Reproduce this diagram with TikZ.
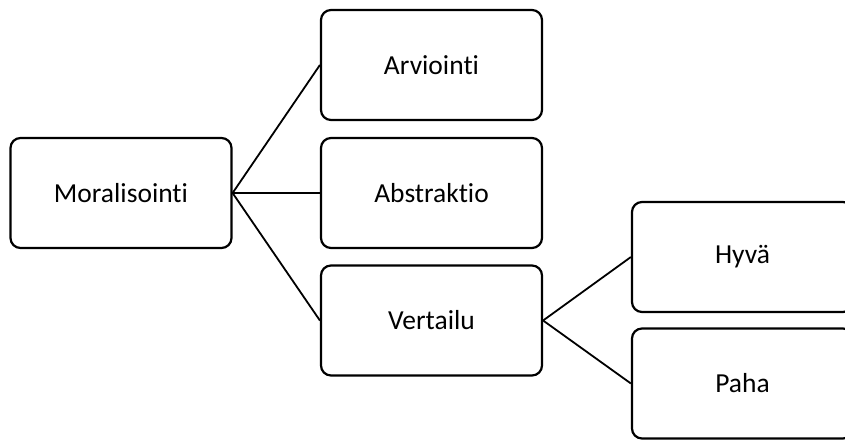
\documentclass[tikz,border=0pt]{standalone}
\usepackage{fontspec}
\setmainfont{Carlito}[Ligatures={NoCommon}]
\begin{document}
\begin{tikzpicture}[x=1pt,y=-1pt,
    box/.style={draw,black,line width=2.2pt,rounded corners=10pt,
      minimum width=221pt,minimum height=110pt,inner sep=0pt,
      font=\fontsize{27.5}{31}\selectfont},
    link/.style={black,line width=1.8pt}]
  \useasboundingbox (0,0) rectangle (845,439);
  \node[box] (moral) at (121,193) {Moralisointi};
  \node[box] (arvi) at (431.5,65) {Arviointi};
  \node[box] (abst) at (431.5,193) {Abstraktio};
  \node[box] (vert) at (431.5,320.5) {Vertailu};
  \node[box] (hyva) at (742.5,257) {Hyvä};
  \node[box] (paha) at (742.5,383.5) {Paha};
  \foreach \t in {arvi,abst,vert} {
      \draw[link] (moral.east) -- (\t.west);
  }
  \foreach \t in {hyva,paha} {
      \draw[link] (vert.east) -- (\t.west);
  }
\end{tikzpicture}
\end{document}
